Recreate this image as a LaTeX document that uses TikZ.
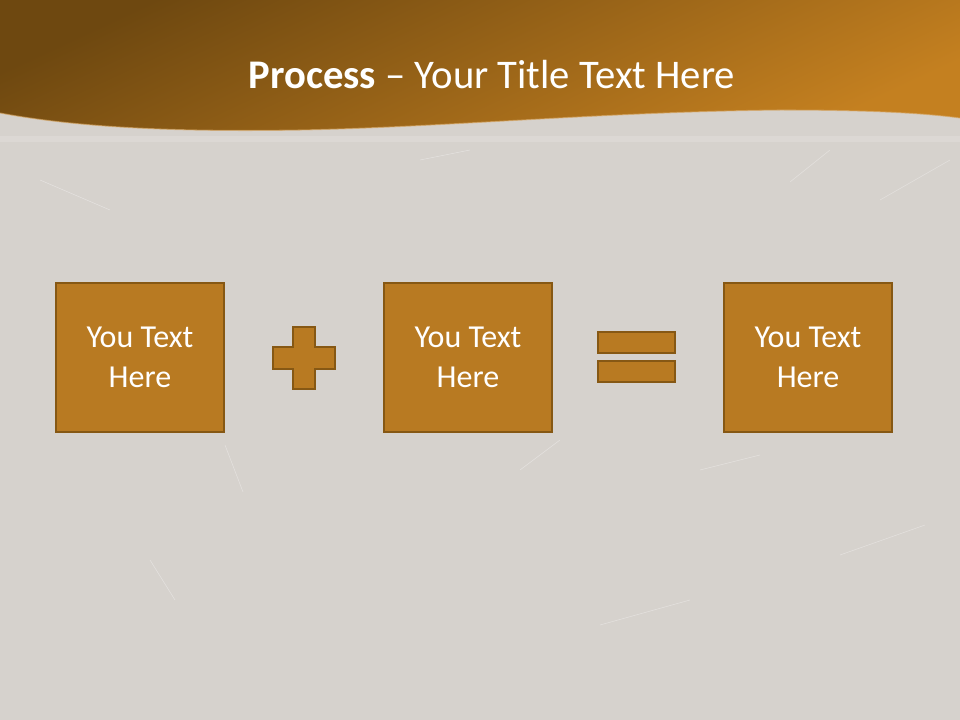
\documentclass[tikz,border=0pt]{standalone}
\usepackage{fontspec}
\setmainfont{Carlito}
\usetikzlibrary{positioning}
\definecolor{slatebg}{RGB}{214,210,205}
\definecolor{headdark}{RGB}{110,72,16}
\definecolor{headlight}{RGB}{196,128,32}
\definecolor{boxfill}{RGB}{184,122,34}
\definecolor{boxline}{RGB}{134,88,20}

\begin{document}
\begin{tikzpicture}[x=0.75pt, y=-0.75pt,
  textbox/.style={fill=boxfill, draw=boxline, line width=1.5pt, text=white,
    minimum width=126pt, minimum height=111.75pt, align=center, inner sep=0pt,
    font=\fontsize{24}{30}\selectfont},
  signbar/.style={fill=boxfill, draw=boxline, line width=1.5pt, inner sep=0pt,
    minimum width=58pt, minimum height=15.75pt},
  scratch/.style={draw=white, opacity=0.35, line width=0.4pt},
]
\def\rowy{357.5} % centre line of the boxes

% Background
\useasboundingbox (0,0) rectangle (960,720);
\fill[slatebg] (0,0) rectangle (960,720);
\fill[white, opacity=0.15] (0,136) rectangle (960,142);

% Scratches
\draw[scratch] (225,445) -- (243,492);
\draw[scratch] (840,555) -- (925,525);
\draw[scratch] (790,182) -- (830,150);
\draw[scratch] (40,180) -- (110,210);
\draw[scratch] (520,470) -- (560,440);
\draw[scratch] (600,625) -- (690,600);
\draw[scratch] (880,200) -- (950,160);
\draw[scratch] (150,560) -- (175,600);
\draw[scratch] (420,160) -- (470,150);
\draw[scratch] (700,470) -- (760,455);

% Header band
\shade[top color=headdark, bottom color=headlight, shading angle=25]
  (0,0) -- (960,0) -- (960,118)
  .. controls (930,114) and (880,110) .. (780,110)
  .. controls (600,112) and (450,127) .. (300,130)
  .. controls (180,132) and (80,128) .. (0,113) -- cycle;
\draw[headlight!70!white, line width=0.8pt, opacity=0.6]
  (960,118) .. controls (930,114) and (880,110) .. (780,110)
  .. controls (600,112) and (450,127) .. (300,130)
  .. controls (180,132) and (80,128) .. (0,113);

% Title
\node[text=white, font=\fontsize{30.5}{36}\selectfont] (title) at (492,75)
  {\textbf{Process} -- Your Title Text Here};

% Boxes
\node[textbox] (boxa) at (140,\rowy) {You Text\\Here};
\node[textbox] (boxb) at (468,\rowy) {You Text\\Here};
\node[textbox] (boxc) at (808,\rowy) {You Text\\Here};

% Plus sign
\draw[fill=boxfill, draw=boxline, line width=1.5pt]
  (293,327) -- (315,327) -- (315,347) -- (335,347) -- (335,369) -- (315,369)
  -- (315,389) -- (293,389) -- (293,369) -- (273,369) -- (273,347)
  -- (293,347) -- cycle;

% Equals sign
\node[signbar] (eqtop) at (636.5,342.5) {};
\node[signbar] (eqbot) at (636.5,371.5) {};
\end{tikzpicture}
\end{document}
